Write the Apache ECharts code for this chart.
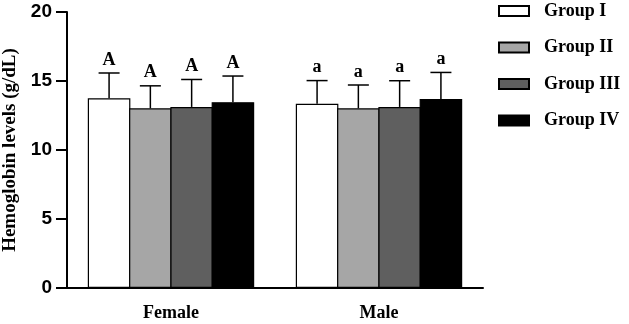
<!DOCTYPE html>
<html>
<head>
<meta charset="utf-8">
<script src="https://cdn.jsdelivr.net/npm/echarts@6/dist/echarts.min.js"></script>
<style>
  html, body { margin: 0; padding: 0; background: #fff; }
  #drew { width: 629px; height: 324px; }
</style>
</head>
<body>
<div id="drew"></div>
<script>
   // data
   var categories = ['Female', 'Male'];
   var groups = ['Group I', 'Group II', 'Group III', 'Group IV'];
   var means = [
       [13.75, 13.35],
       [13.02, 13.02],
       [13.12, 13.12],
       [13.46, 13.70]
   ];
   var sds = [
       [1.83, 1.68],
       [1.63, 1.69],
       [1.99, 1.90],
       [1.90, 1.92]
   ];
   var letters = ['A', 'a'];
   var colors = ['#ffffff', '#a6a6a6', '#5f5f5f', '#000000'];
   var yTicks = [0, 5, 10, 15, 20];

   var serif = '"Liberation Serif", "Times New Roman", serif';
   var sans = '"Liberation Sans", Arial, sans-serif';

   var catGap = 0.2;
   var barGap = -0.03;   // slight overlap so neighbouring bars share one border

   var myChart = echarts.init(document.getElementById('drew'));

   var series = [];
   groups.forEach(function (g, i) {
       series.push({
           name: g,
           type: 'bar',
           data: means[i],
           barGap: (barGap * 100) + '%',
           barCategoryGap: (catGap * 100) + '%',
           itemStyle: { color: colors[i], borderColor: '#000', borderWidth: 1.2 },
           z: 2
       });
   });

   // error bars + significance letters
   groups.forEach(function (g, i) {
       series.push({
           type: 'custom',
           name: g + ' sd',
           z: 1,
           data: categories.map(function (c, j) { return [j, means[i][j], means[i][j] + sds[i][j]]; }),
           renderItem: function (params, api) {
               var band = api.size([1, 0])[0];
               var gw = band * (1 - catGap);
               var n = groups.length;
               var bw = gw / (n + (n - 1) * barGap);
               var off = -gw / 2 + bw / 2 + i * bw * (1 + barGap);
               var bottom = api.coord([api.value(0), api.value(1)]);
               var top = api.coord([api.value(0), api.value(2)]);
               var x = bottom[0] + off;
               var cap = 10.5;
               var st = { stroke: '#000', lineWidth: 1.5 };
               return {
                   type: 'group',
                   children: [
                       { type: 'line', shape: { x1: x, y1: bottom[1], x2: x, y2: top[1] }, style: st },
                       { type: 'line', shape: { x1: x - cap, y1: top[1], x2: x + cap, y2: top[1] }, style: st },
                       {
                           type: 'text',
                           x: x, y: top[1] - 4,
                           style: {
                               text: letters[api.value(0)],
                               fill: '#000',
                               font: 'bold 18px ' + serif,
                               align: 'center',
                               verticalAlign: 'bottom'
                           }
                       }
                   ]
               };
           }
       });
   });

   var option = {
       animation: false,
       backgroundColor: '#fff',
       grid: { left: 67, right: 146, top: 12, bottom: 36, outerBoundsMode: 'none' },
       legend: {
           data: groups,
           orient: 'vertical',
           left: 493,
           top: -3,
           itemWidth: 30,
           itemHeight: 10,
           itemGap: 18.5,
           icon: 'rect',
           textStyle: { fontFamily: serif, fontWeight: 'bold', fontSize: 18, color: '#000', padding: [0, 0, 0, 10] }
       },
       xAxis: {
           type: 'category',
           data: categories,
           axisLine: { lineStyle: { color: '#000', width: 2 } },
           axisTick: { alignWithLabel: true, length: 10, lineStyle: { color: '#000', width: 2 } },
           axisLabel: { color: '#000', fontFamily: serif, fontWeight: 'bold', fontSize: 18, margin: 16 }
       },
       yAxis: {
           type: 'value',
           min: yTicks[0],
           max: yTicks[yTicks.length - 1],
           interval: 5,
           name: 'Hemoglobin levels (g/dL)',
           nameLocation: 'middle',
           nameGap: 44,
           nameTextStyle: { color: '#000', fontFamily: serif, fontWeight: 'bold', fontSize: 19 },
           splitLine: { show: false },
           axisLine: { show: true, lineStyle: { color: '#000', width: 2 } },
           axisTick: { show: true, length: 11, lineStyle: { color: '#000', width: 2 } },
           axisLabel: { color: '#000', fontFamily: sans, fontWeight: 'bold', fontSize: 19, margin: 15 }
       },
       series: series
   };
   myChart.setOption(option);
</script>
</body>
</html>
